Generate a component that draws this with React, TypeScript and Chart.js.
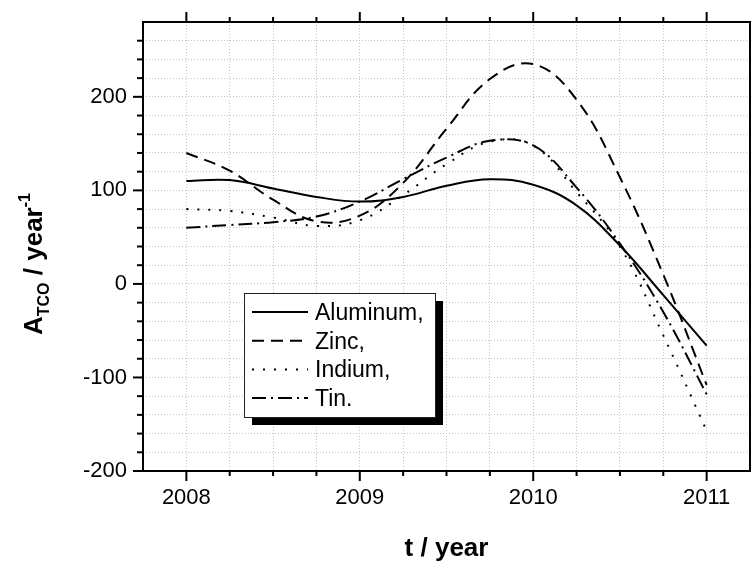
import React, { useEffect, useRef } from "react";
import { Chart, registerables } from "chart.js";

Chart.register(...registerables);

// ---- data ----
const years = [2008, 2008.25, 2008.5, 2008.75, 2009, 2009.25, 2009.5, 2009.75, 2010, 2010.25, 2010.5, 2010.75, 2011];
const aluminum = [110, 111, 102, 93, 88, 93, 105, 112, 106, 84, 41, -12, -66];
const zinc = [140, 121, 90, 67, 73, 108, 166, 219, 235, 197, 114, 10, -108];
const indium = [80, 78, 71, 62, 68, 95, 128, 152, 148, 98, 40, -55, -157];
const tin = [60, 63, 66, 72, 88, 112, 135, 153, 148, 103, 43, -30, -118];
const seriesNames = ["Aluminum,", "Zinc,", "Indium,", "Tin."];
const xMajorTicks = [2008, 2009, 2010, 2011];
const yMajorTicks = [-200, -100, 0, 100, 200];

const FONT = "'Liberation Sans', Arial, sans-serif";

const dashes: number[][] = [[], [12, 7], [2, 9], [14, 5, 2, 5]];

const decorPlugin = {
  id: "decor",
  afterDraw(chart: any) {
    const ctx: CanvasRenderingContext2D = chart.ctx;
    const area = chart.chartArea;
    const xs = chart.scales.x;
    const ys = chart.scales.y;
    ctx.save();
    // frame
    ctx.strokeStyle = "#000";
    ctx.lineWidth = 2;
    ctx.setLineDash([]);
    ctx.strokeRect(area.left, area.top, area.right - area.left, area.bottom - area.top);

    // x ticks (bottom and top)
    ctx.lineWidth = 2;
    xs.ticks.forEach((t: any) => {
      const px = xs.getPixelForValue(t.value);
      if (px <= area.left + 1 || px >= area.right - 1) return;
      const major = xMajorTicks.includes(t.value);
      const len = major ? 10 : 5;
      ctx.beginPath();
      ctx.moveTo(px, area.bottom);
      ctx.lineTo(px, area.bottom + len);
      ctx.moveTo(px, area.top);
      ctx.lineTo(px, area.top - len);
      ctx.stroke();
    });
    // y ticks (left)
    ys.ticks.forEach((t: any) => {
      const py = ys.getPixelForValue(t.value);
      const major = yMajorTicks.includes(t.value);
      if ((py >= area.bottom - 1 || py <= area.top + 1) && !major) return;
      const len = major ? 10 : 6;
      ctx.beginPath();
      ctx.moveTo(area.left, py);
      ctx.lineTo(area.left - len, py);
      ctx.stroke();
    });

    // x title
    ctx.fillStyle = "#000";
    ctx.font = `bold 26px ${FONT}`;
    ctx.textAlign = "center";
    ctx.textBaseline = "alphabetic";
    ctx.fillText("t / year", (area.left + area.right) / 2, 556);

    // y title with subscript and superscript
    ctx.save();
    ctx.translate(42, 335);
    ctx.rotate(-Math.PI / 2);
    ctx.textAlign = "left";
    let x = 0;
    ctx.font = `bold 26px ${FONT}`;
    ctx.fillText("A", x, 0);
    x += ctx.measureText("A").width;
    ctx.font = `bold 16px ${FONT}`;
    ctx.fillText("TCO", x, 7);
    x += ctx.measureText("TCO").width;
    ctx.font = `bold 26px ${FONT}`;
    ctx.fillText(" / year", x, 0);
    x += ctx.measureText(" / year").width;
    ctx.font = `bold 16px ${FONT}`;
    ctx.fillText("-1", x, -12);
    ctx.restore();

    // legend box with shadow
    const bx = 244, by = 293, bw = 191, bh = 124;
    ctx.fillStyle = "#000";
    ctx.fillRect(bx + 8, by + 8, bw, bh);
    ctx.fillStyle = "#fff";
    ctx.fillRect(bx, by, bw, bh);
    ctx.strokeStyle = "#222";
    ctx.lineWidth = 1;
    ctx.strokeRect(bx + 0.5, by + 0.5, bw, bh);

    chart.data.datasets.forEach((ds: any, i: number) => {
      const rowY = 312 + i * 28.7;
      ctx.strokeStyle = "#000";
      ctx.lineWidth = 2;
      ctx.setLineDash(ds.borderDash || []);
      ctx.beginPath();
      ctx.moveTo(252, rowY);
      ctx.lineTo(308, rowY);
      ctx.stroke();
      ctx.setLineDash([]);
      ctx.fillStyle = "#000";
      ctx.font = `23px ${FONT}`;
      ctx.textAlign = "left";
      ctx.textBaseline = "alphabetic";
      ctx.fillText(ds.label, 315, rowY + 8);
    });
    ctx.restore();
  },
};

export default function App() {
  const ref = useRef<HTMLCanvasElement | null>(null);
  useEffect(() => {
    if (!ref.current) return;
    const series = [aluminum, zinc, indium, tin];
    const chart = new Chart(ref.current, {
      type: "line",
      data: {
        datasets: series.map((s, i) => ({
          label: seriesNames[i],
          data: years.map((y, j) => ({ x: y, y: s[j] })),
          borderColor: "#000",
          borderWidth: 2,
          borderDash: dashes[i],
          pointRadius: 0,
          tension: 0.4,
          fill: false,
        })),
      },
      options: {
        responsive: false,
        animation: false,
        devicePixelRatio: 1,
        layout: { padding: { top: 22, right: 2, left: 0, bottom: 0 } },
        plugins: { legend: { display: false }, tooltip: { enabled: false }, title: { display: false } },
        scales: {
          x: {
            type: "linear",
            min: 2007.75,
            max: 2011.25,
            afterFit: (scale: any) => {
              scale.height = 90;
              scale.paddingLeft = 0;
              scale.paddingRight = 0;
            },
            ticks: {
              stepSize: 0.25,
              autoSkip: false,
              maxRotation: 0,
              padding: 14,
              color: "#000",
              font: { family: FONT, size: 22 },
              callback: (v: any) => (xMajorTicks.includes(Number(v)) ? String(v) : ""),
            },
            grid: {
              color: "#c4c4c4",
              lineWidth: 1,
              drawTicks: false,
              tickLength: 0,
            },
            border: { display: false, dash: [1, 2] },
          },
          y: {
            type: "linear",
            min: -200,
            max: 280,
            afterFit: (scale: any) => {
              scale.width = 143;
              scale.paddingTop = 0;
              scale.paddingBottom = 0;
            },
            ticks: {
              stepSize: 20,
              autoSkip: false,
              padding: 16,
              color: "#000",
              font: { family: FONT, size: 22 },
              callback: (v: any) => (yMajorTicks.includes(Number(v)) ? String(v) : ""),
            },
            grid: {
              color: "#c4c4c4",
              lineWidth: 1,
              drawTicks: false,
              tickLength: 0,
            },
            border: { display: false, dash: [1, 2] },
          },
        },
      },
      plugins: [decorPlugin],
    } as any);
    return () => chart.destroy();
  }, []);
  return (
    <div style={{ position: "fixed", left: 0, top: 0, width: 752, height: 561, background: "#fff" }}>
      <canvas ref={ref} width={752} height={561} style={{ width: 752, height: 561, display: "block" }} />
    </div>
  );
}
